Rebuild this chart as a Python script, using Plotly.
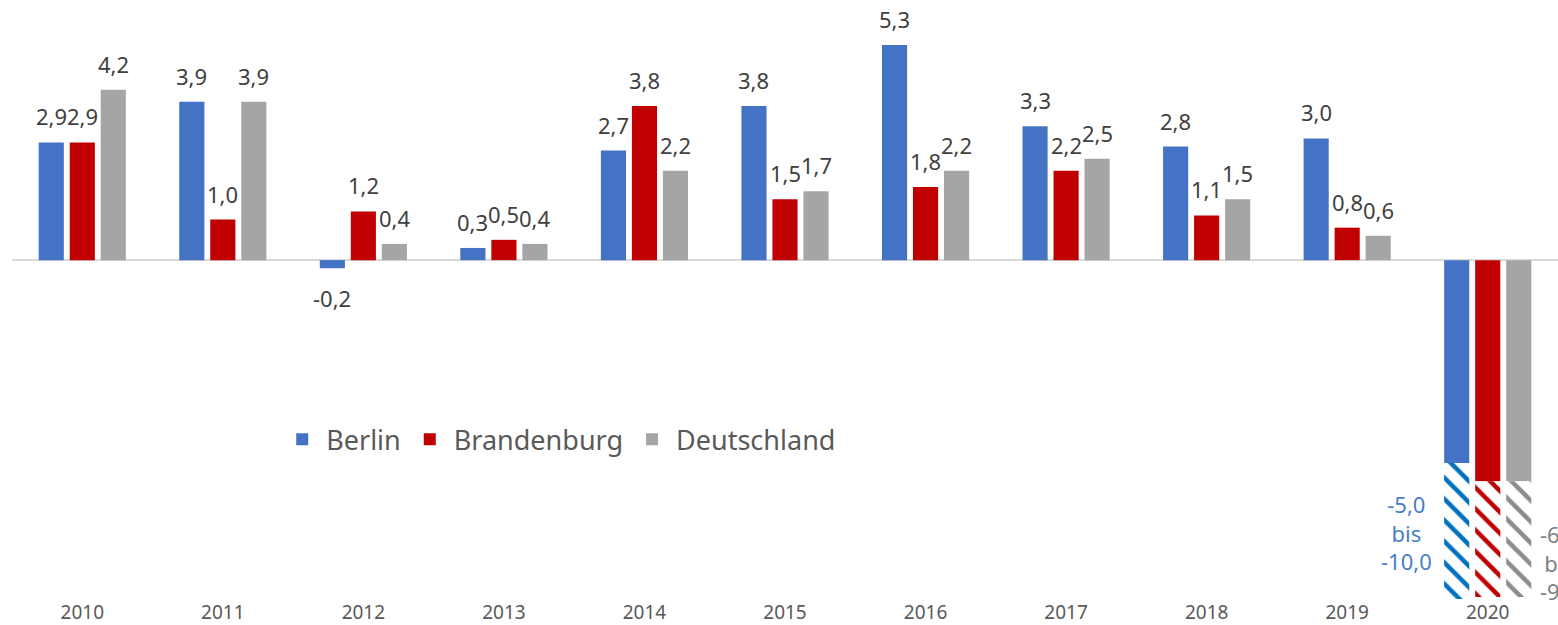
import plotly.graph_objects as go

years = ["2010", "2011", "2012", "2013", "2014", "2015", "2016", "2017", "2018", "2019", "2020"]
berlin = [2.9, 3.9, -0.2, 0.3, 2.7, 3.8, 5.3, 3.3, 2.8, 3.0, -5.0]
brandenburg = [2.9, 1.0, 1.2, 0.5, 3.8, 1.5, 1.8, 2.2, 1.1, 0.8, -5.45]
deutschland = [4.2, 3.9, 0.4, 0.4, 2.2, 1.7, 2.2, 2.5, 1.5, 0.6, -5.45]

# 2020 forecast ranges (hatched part, lower end)
berlin_range_low = -10.0
brandenburg_range_low = -8.3
deutschland_range_low = -8.3
berlin_label_range = (-5.0, -10.0)
deutschland_label_range = (-6.0, -9.0)

names = ["Berlin", "Brandenburg", "Deutschland"]
colors = ["#4472C4", "#C00000", "#A5A5A5"]
hatch_colors = ["#0070C0", "#C00000", "#8C8C8C"]
series = [berlin, brandenburg, deutschland]
range_lows = [berlin_range_low, brandenburg_range_low, deutschland_range_low]

BARGAP = 0.338
BARGROUPGAP = 0.19
slot = (1 - BARGAP) / 3

fig = go.Figure()
for k, (name, vals, col) in enumerate(zip(names, series, colors)):
    fig.add_trace(go.Bar(
        x=years, y=vals, name=name, offsetgroup=str(k),
        marker=dict(color=col, line=dict(width=0)),
    ))
for k, (name, vals, hcol, low) in enumerate(zip(names, series, hatch_colors, range_lows)):
    fig.add_trace(go.Bar(
        x=[years[-1]], y=[low - vals[-1]], base=[vals[-1]], name=name,
        offsetgroup=str(k), showlegend=False,
        marker=dict(color="white", line=dict(width=0),
                    pattern=dict(shape="\\", fgcolor=hcol, bgcolor="white",
                                 size=15, solidity=0.3, fillmode="replace")),
    ))

def fmt(v):
    return f"{v:.1f}".replace(".", ",")

annotations = []
for k, vals in enumerate(series):
    for i, v in enumerate(vals[:-1]):
        annotations.append(dict(
            x=i + (k - 1) * slot, y=v, xref="x", yref="y",
            text=fmt(v), showarrow=False,
            yanchor="middle", yshift=26 if v >= 0 else -30,
            font=dict(family="Noto Sans", size=22, color="#404040"),
        ))

n = len(years) - 1
bw = slot * (1 - BARGROUPGAP)
annotations.append(dict(
    x=n - slot - bw / 2, y=-6.70, xref="x", yref="y",
    text=f"{fmt(berlin_label_range[0])}<br>bis<br>{fmt(berlin_label_range[1])}",
    showarrow=False, xanchor="right", align="center", yanchor="middle", xshift=-10,
    font=dict(family="Noto Sans", size=22, color="#4A7EC7"),
))
annotations.append(dict(
    x=n + slot + bw / 2, y=-7.45, xref="x", yref="y",
    text=f"{fmt(deutschland_label_range[0])}<br>bis<br>{fmt(deutschland_label_range[1])}",
    showarrow=False, xanchor="left", align="center", yanchor="middle", xshift=7,
    font=dict(family="Noto Sans", size=22, color="#808080"),
))

fig.update_layout(
    width=1558, height=625,
    margin=dict(l=12, r=0, t=0, b=26, autoexpand=False),
    paper_bgcolor="white", plot_bgcolor="white",
    barmode="group", bargap=BARGAP, bargroupgap=BARGROUPGAP,
    font=dict(family="Noto Sans", color="#595959"),
    showlegend=True,
    legend=dict(orientation="h", x=0.1722, y=0.266, xanchor="left", yanchor="middle",
                itemwidth=38,
                font=dict(family="Noto Sans", size=27, color="#595959"),
                bgcolor="rgba(0,0,0,0)"),
    annotations=annotations,
)
fig.update_xaxes(type="category", range=[-0.5, 10.5], showgrid=False, showline=False,
                 ticks="", ticklabelstandoff=0,
                 tickfont=dict(family="Noto Sans", size=19, color="#595959"),
                 automargin=False)
fig.update_yaxes(range=[-8.35, 6.41], showgrid=False, showticklabels=False,
                 zeroline=True, zerolinecolor="#D9D9D9", zerolinewidth=2,
                 automargin=False)

fig.write_html("out.html", config={"displayModeBar": False},
               post_script="document.body.style.margin='0px';document.body.style.overflow='hidden';")
